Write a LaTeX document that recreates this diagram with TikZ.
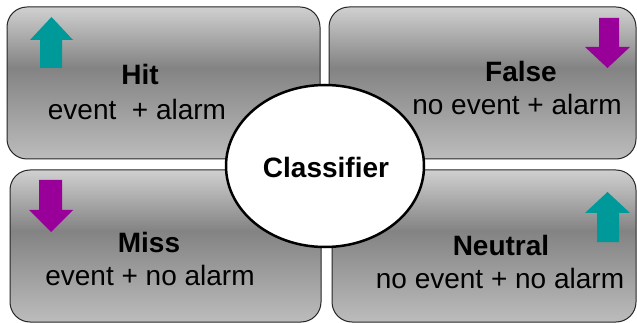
\documentclass[tikz,border=0pt]{standalone}
\usepackage{fontspec}
\setmainfont{Liberation Sans}
\usetikzlibrary{shapes.geometric}
\definecolor{boxhi}{HTML}{D0D0D0}
\definecolor{boxmid}{HTML}{838383}
\definecolor{boxlo}{HTML}{BCBCBC}
\definecolor{upteal}{HTML}{009999}
\definecolor{downpurple}{HTML}{990099}
\pgfdeclareverticalshading{boxgrey}{100bp}{color(0bp)=(boxlo); color(25bp)=(boxlo); color(55bp)=(boxmid); color(75bp)=(boxhi); color(100bp)=(boxhi)}
\tikzset{
  box/.style={draw=black!85, line width=1pt, rounded corners=20pt, shading=boxgrey, inner sep=0pt, minimum height=152},
  title/.style={font=\fontsize{28}{33}\selectfont\bfseries, anchor=base, inner sep=0pt},
  sub/.style={font=\fontsize{28}{33}\selectfont, anchor=base, inner sep=0pt}
}

\begin{document}
\begin{tikzpicture}[x=1pt,y=-1pt]
            \useasboundingbox (0,0) rectangle (637,323);
            % the four outcome boxes
            \node[box, minimum width=313] (hit) at (163.5,83) {};
            \node[box, minimum width=307] (false) at (482.5,83) {};
            \node[box, minimum width=311] (miss) at (165.5,246) {};
            \node[box, minimum width=304] (neutral) at (484,246) {};
            % arrows
            \fill[upteal] (51.5,17)--(73,40)--(62,40)--(62,68)--(40,68)--(40,40)--(30,40)--cycle;
            \fill[downpurple] (607.5,68)--(630,47)--(619,47)--(619,18)--(599,18)--(599,47)--(585,47)--cycle;
            \fill[downpurple] (51,232)--(73,210)--(62,210)--(62,180)--(39,180)--(39,210)--(29,210)--cycle;
            \fill[upteal] (607.5,192)--(630,213)--(619,213)--(619,242)--(597,242)--(597,213)--(585,213)--cycle;
            % labels
            \node[title] (hitT) at (140,85) {Hit};
            \node[sub] (hitS) at (137,120) {event\ \ + alarm};
            \node[title] (falseT) at (521,82) {False};
            \node[sub] (falseS) at (517,115) {no event + alarm};
            \node[title] (missT) at (149,252) {Miss};
            \node[sub] (missS) at (150,285) {event + no alarm};
            \node[title] (neutralT) at (501,255) {Neutral};
            \node[sub] (neutralS) at (500,288) {no event + no alarm};
            % classifier
            \node[ellipse, draw, line width=2.5pt, fill=white, minimum width=198, minimum height=162, inner sep=0pt] (clf) at (325,166) {};
            \node[title] (clfT) at (326,178) {Classifier};
        \end{tikzpicture}
\end{document}
